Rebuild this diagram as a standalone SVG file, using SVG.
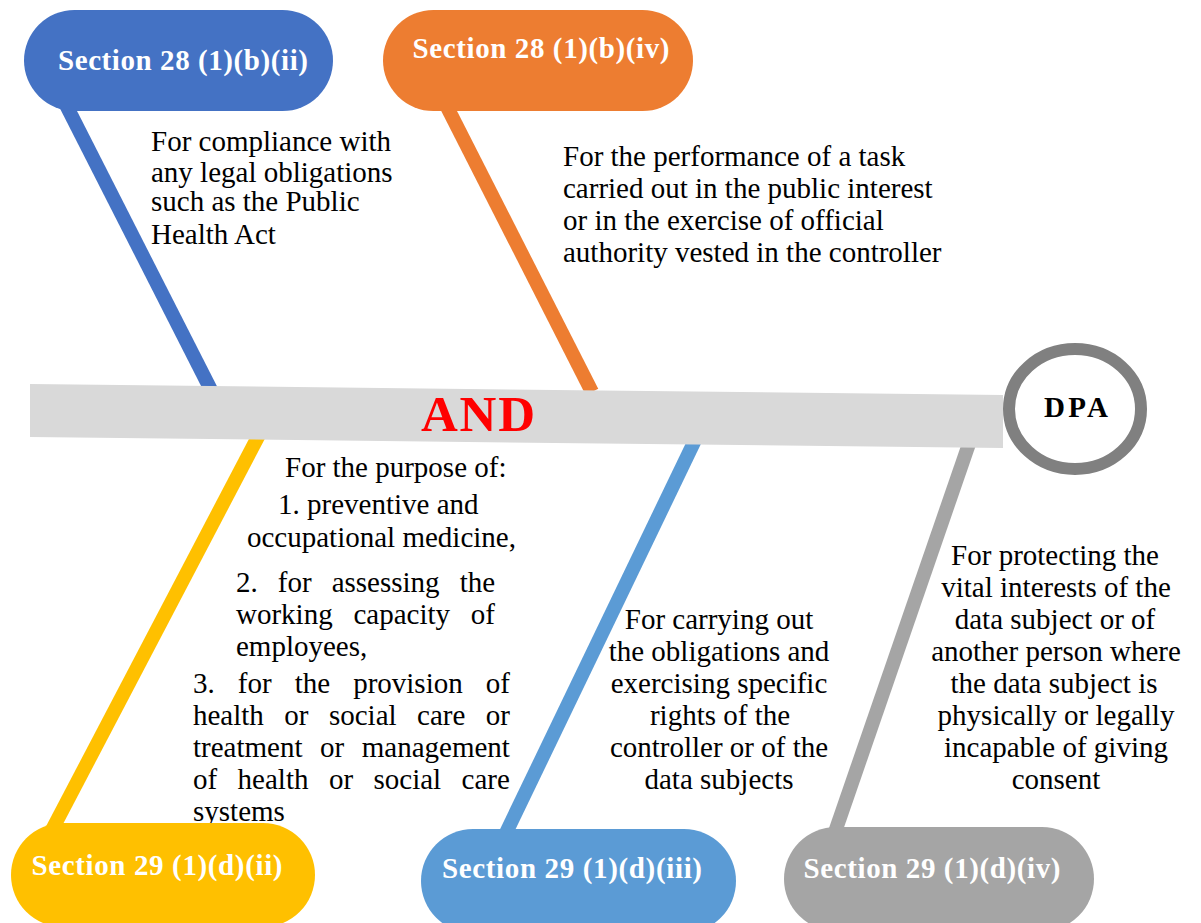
<svg xmlns="http://www.w3.org/2000/svg" width="1201" height="923" viewBox="0 0 1201 923">
<style>
.body{font-family:"Liberation Serif","Times New Roman",serif;font-size:29px;fill:#000}
.lbl{font-family:"Liberation Serif","Times New Roman",serif;font-size:29px;font-weight:bold;fill:#fff}
.mid{text-anchor:middle}
.conn{fill:none;stroke-width:14;stroke-linecap:butt}
</style>
<rect width="1201" height="923" fill="#fff"/>
<g id="connectors">
<line class="conn" x1="61" y1="95" x2="212" y2="392" stroke="#4472C4"/>
<line class="conn" x1="441" y1="95" x2="592" y2="392" stroke="#ED7D31"/>
<line class="conn" x1="260" y1="433" x2="52" y2="830" stroke="#FFC000"/>
<line class="conn" x1="697" y1="436" x2="505" y2="835" stroke="#5B9BD5"/>
<line class="conn" x1="971" y1="438" x2="834" y2="835" stroke="#A5A5A5"/>
</g>
<g id="spine">
<polygon points="30,384 1003,395 1003,448 30,437" fill="#D9D9D9"/>
<text x="478" y="431" text-anchor="middle" font-family="Liberation Serif, Times New Roman, serif" font-size="51" font-weight="bold" fill="#FF0000" textLength="114">AND</text>
</g>
<g id="node-dpa">
<ellipse cx="1075" cy="409" rx="66" ry="60" fill="#fff" stroke="#808080" stroke-width="12"/>
<text x="1076" y="417" text-anchor="middle" font-family="Liberation Serif, Times New Roman, serif" font-size="29" font-weight="bold" fill="#000" textLength="64">DPA</text>
</g>
<g id="text-s28-b-ii" class="body">
<text x="151" y="151">For compliance with</text>
<text x="151" y="182">any legal obligations</text>
<text x="151" y="211">such as the Public</text>
<text x="151" y="244">Health Act</text>
</g>
<g id="text-s28-b-iv" class="body">
<text x="563" y="166">For the performance of a task</text>
<text x="563" y="198">carried out in the public interest</text>
<text x="563" y="230">or in the exercise of official</text>
<text x="563" y="262">authority vested in the controller</text>
</g>
<g id="text-s29-d-ii" class="body">
<text x="285" y="477">For the purpose of:</text>
<text x="278" y="514">1. preventive and</text>
<text x="247" y="547">occupational medicine,</text>
<text x="236" y="592" style="word-spacing:12.8px">2. for assessing the</text>
<text x="236" y="624" style="word-spacing:13.5px">working capacity of</text>
<text x="236" y="656">employees,</text>
<text x="193" y="693" style="word-spacing:15.8px">3. for the provision of</text>
<text x="193" y="725" style="word-spacing:13.2px">health or social care or</text>
<text x="193" y="757" style="word-spacing:10.3px">treatment or management</text>
<text x="193" y="789" style="word-spacing:13.2px">of health or social care</text>
<text x="193" y="821">systems</text>
</g>
<g id="text-s29-d-iii" class="body mid">
<text x="719" y="629">For carrying out</text>
<text x="719" y="661">the obligations and</text>
<text x="719" y="693">exercising specific</text>
<text x="720" y="725">rights of the</text>
<text x="719" y="757">controller or of the</text>
<text x="719" y="789">data subjects</text>
</g>
<g id="text-s29-d-iv" class="body mid">
<text x="1055" y="565">For protecting the</text>
<text x="1056" y="597">vital interests of the</text>
<text x="1055" y="629">data subject or of</text>
<text x="1056" y="661">another person where</text>
<text x="1054" y="693">the data subject is</text>
<text x="1056" y="725">physically or legally</text>
<text x="1056" y="757">incapable of giving</text>
<text x="1056" y="789">consent</text>
</g>
<g id="node-s28-b-ii">
<rect x="24" y="10" width="309" height="101" rx="50.5" fill="#4472C4"/>
<text class="lbl mid" x="183" y="70" textLength="250">Section 28 (1)(b)(ii)</text>
</g>
<g id="node-s28-b-iv">
<rect x="383" y="10" width="310" height="101" rx="50.5" fill="#ED7D31"/>
<text class="lbl mid" x="541" y="58" textLength="257">Section 28 (1)(b)(iv)</text>
</g>
<g id="node-s29-d-ii">
<rect x="11" y="823" width="304" height="104" rx="52" fill="#FFC000"/>
<text class="lbl mid" x="157" y="875" textLength="251">Section 29 (1)(d)(ii)</text>
</g>
<g id="node-s29-d-iii">
<rect x="421" y="829" width="315" height="104" rx="52" fill="#5B9BD5"/>
<text class="lbl mid" x="572" y="878" textLength="260">Section 29 (1)(d)(iii)</text>
</g>
<g id="node-s29-d-iv">
<rect x="784" y="827" width="310" height="104" rx="52" fill="#A5A5A5"/>
<text class="lbl mid" x="932" y="878" textLength="257">Section 29 (1)(d)(iv)</text>
</g>
</svg>
